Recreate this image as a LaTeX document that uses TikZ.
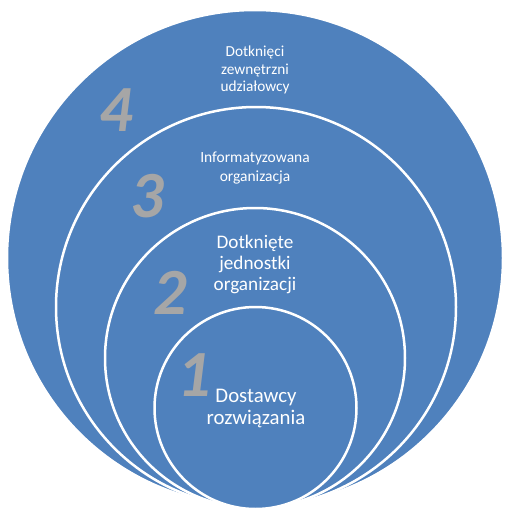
\documentclass[tikz,border=0pt]{standalone}
\usepackage{fontspec}
\setmainfont{Carlito}
\definecolor{ringblue}{HTML}{4F81BD}
\definecolor{numgray}{HTML}{A6A6A6}
\begin{document}
\begin{tikzpicture}[x=1pt,y=-1pt,
  ring/.style={circle,fill=ringblue,draw=white,line width=2.5pt,inner sep=0pt},
  lbl/.style={text=white,align=center,inner sep=0pt},
  num/.style={text=numgray,inner sep=0pt,font=\fontsize{66}{66}\selectfont\bfseries\itshape}]
\useasboundingbox (0,0) rectangle (511,512);
\node[ring,minimum size=496pt] (c4) at (255,258) {};
\node[ring,minimum size=400pt] (c3) at (256,307) {};
\node[ring,minimum size=300pt] (c2) at (255,358) {};
\node[ring,minimum size=202pt] (c1) at (255.5,408) {};
\node[lbl,font=\fontsize{15.3}{17.5}\selectfont] (t4) at (255,70) {Dotknięci\\zewnętrzni\\udziałowcy};
\node[lbl,font=\fontsize{15.5}{19}\selectfont] (t3) at (255,168) {Informatyzowana\\organizacja};
\node[lbl,font=\fontsize{19.2}{21}\selectfont] (t2) at (255,264) {Dotknięte\\jednostki\\organizacji};
\node[lbl,font=\fontsize{20.8}{22}\selectfont] (t1) at (256,408) {Dostawcy\\rozwiązania};
\node[num] (n4) at (116.5,110) {4};
\node[num] (n3) at (147,196) {3};
\node[num] (n2) at (170,292.5) {2};
\node[num] (n1) at (194,375) {1};
\end{tikzpicture}
\end{document}
